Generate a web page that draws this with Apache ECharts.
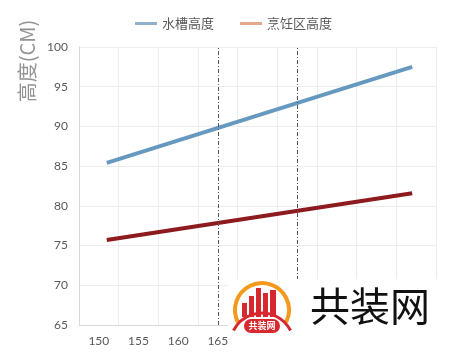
<!DOCTYPE html>
<html>
<head>
<meta charset="utf-8">
<script src="https://cdn.jsdelivr.net/npm/echarts@6/dist/echarts.min.js"></script>
<style>
html,body{margin:0;padding:0;background:#fff;}
#chart{width:452px;height:354px;}
</style>
</head>
<body>
<div id="chart"></div>
<script>
// ---- data ----
const categories = ['150','155','160','165','170','175','180','185','190'];
const seriesNames = ['水槽高度', '烹饪区高度'];
const sinkX = [151, 189.5];
const sinkHeight = [85.4, 97.5];
const cookX = [151, 189.5];
const cookHeight = [75.7, 81.6];
const markX = [165, 175];
const yMin = 65, yMax = 100, yStep = 5;
const xMin = 147.5, xMax = 192.5;

const chart = echarts.init(document.getElementById('chart'), null, {renderer: 'canvas'});

const dashDot = [4, 2, 1, 2];

const option = {
  animation: false,
  backgroundColor: '#ffffff',
  textStyle: {fontFamily: 'Lato, "Noto Sans CJK SC", sans-serif'},
  legend: {
    left: 130,
    top: 12,
    itemWidth: 22,
    itemHeight: 3,
    itemGap: 26,
    icon: 'rect',
    textStyle: {color: '#595959', fontSize: 13, fontFamily: '"Noto Sans CJK SC", sans-serif'},
    data: [
      {name: seriesNames[0], itemStyle: {color: '#8fb1c9'}},
      {name: seriesNames[1], itemStyle: {color: '#e3a98a'}}
    ]
  },
  grid: {left: 79, right: 16, top: 47, bottom: 29, containLabel: false},
  xAxis: [
    {
      type: 'category',
      data: categories,
      boundaryGap: true,
      axisLine: {show: true, lineStyle: {color: '#d9d9d9'}},
      axisTick: {show: false},
      splitLine: {show: true, lineStyle: {color: '#ededed'}},
      axisLabel: {color: '#595959', fontSize: 12, margin: 10, interval: 0}
    },
    {
      type: 'value',
      min: xMin,
      max: xMax,
      show: false
    }
  ],
  yAxis: {
    type: 'value',
    min: yMin,
    max: yMax,
    interval: yStep,
    axisLine: {show: true, lineStyle: {color: '#d9d9d9'}},
    axisTick: {show: false},
    splitLine: {show: true, lineStyle: {color: '#ededed'}},
    axisLabel: {color: '#595959', fontSize: 12, margin: 11}
  },
  series: [
    {
      name: seriesNames[0],
      type: 'line',
      xAxisIndex: 1,
      data: sinkX.map((x, i) => [x, sinkHeight[i]]),
      symbol: 'none',
      lineStyle: {color: '#6699c0', width: 4, cap: 'butt'},
      itemStyle: {color: '#6699c0'},
      markLine: {
        silent: true,
        symbol: 'none',
        label: {show: false},
        lineStyle: {color: '#555', width: 1, type: dashDot},
        data: markX.map(v => ({xAxis: v}))
      }
    },
    {
      name: seriesNames[1],
      type: 'line',
      xAxisIndex: 1,
      data: cookX.map((x, i) => [x, cookHeight[i]]),
      symbol: 'none',
      lineStyle: {color: '#8c1a1e', width: 4, cap: 'butt'},
      itemStyle: {color: '#8c1a1e'}
    }
  ],
  graphic: [
    {
      type: 'text',
      x: 27, y: 61,
      rotation: Math.PI / 2,
      style: {
        text: '高度(CM)',
        fill: '#939393',
        font: '20px "Noto Sans CJK SC", sans-serif',
        textAlign: 'center',
        textVerticalAlign: 'middle'
      }
    },
    // watermark
    {type: 'rect', z: 100, shape: {x: 228, y: 279, width: 224, height: 75}, style: {fill: '#ffffff'}},
    {type: 'arc', z: 101, shape: {cx: 262, cy: 310, r: 27, startAngle: Math.PI * 0.85, endAngle: Math.PI * 2.15}, style: {stroke: '#f39a1e', lineWidth: 4, fill: null}},
    {type: 'rect', z: 102, shape: {x: 242, y: 303, width: 5, height: 14}, style: {fill: '#d7282f'}},
    {type: 'rect', z: 102, shape: {x: 249, y: 296, width: 5, height: 21}, style: {fill: '#d7282f'}},
    {type: 'rect', z: 102, shape: {x: 256, y: 288, width: 5, height: 29}, style: {fill: '#d7282f'}},
    {type: 'rect', z: 102, shape: {x: 263, y: 293, width: 5, height: 24}, style: {fill: '#d7282f'}},
    {type: 'rect', z: 102, shape: {x: 270, y: 290, width: 6, height: 27}, style: {fill: '#d7282f'}},
    {type: 'arc', z: 102, shape: {cx: 262, cy: 345, r: 32, startAngle: Math.PI * 1.15, endAngle: Math.PI * 1.85}, style: {stroke: '#d7282f', lineWidth: 3, fill: null}},
    {type: 'rect', z: 103, shape: {x: 244, y: 319, width: 36, height: 14, r: 7}, style: {fill: '#d7282f'}},
    {type: 'text', z: 104, x: 262, y: 326, style: {text: '共装网', fill: '#ffffff', font: 'bold 9px "Noto Sans CJK SC", sans-serif', textAlign: 'center', textVerticalAlign: 'middle'}},
    {type: 'text', z: 104, x: 370, y: 306, style: {text: '共装网', fill: '#111111', font: '40px "Noto Sans CJK SC", sans-serif', textAlign: 'center', textVerticalAlign: 'middle'}}
  ]
};
chart.setOption(option);
</script>
</body>
</html>
